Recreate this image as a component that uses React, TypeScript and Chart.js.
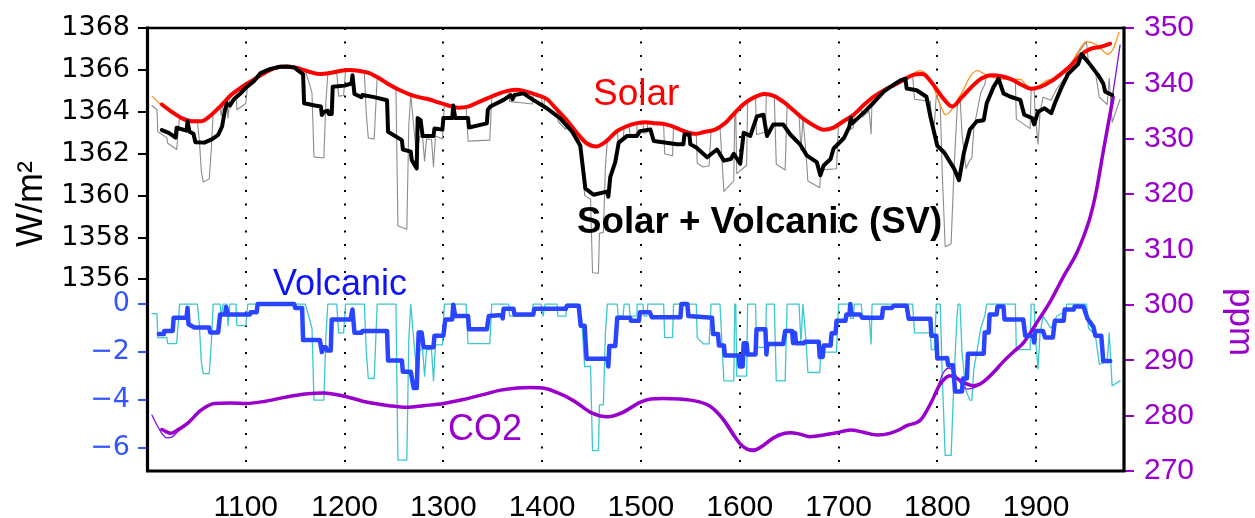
import React, { useEffect, useRef } from 'react';
import { Chart, registerables } from 'chart.js';

Chart.register(...registerables);

// ---------- axes / ticks ----------
const X_MIN = 1001;
const X_MAX = 1989;
const xTickYears = [1100, 1200, 1300, 1400, 1500, 1600, 1700, 1800, 1900];
const solarTicks = [1356, 1358, 1360, 1362, 1364, 1366, 1368];
const volcanicTicks = [0, -2, -4, -6];
const SOLAR_MIN = 1346.86;
const SOLAR_MAX = 1368;
const VOLC_MIN = -6.95;
const VOLC_MAX = 11.49;
const CO2_MIN = 270;
const CO2_MAX = 350;
const CO2_STEP = 10;

// ---------- data (year, value) ----------
// Solar irradiance, smoothed (W/m2)
const solarSmooth: [number, number][] = [
  [1015, 1364.35], [1025, 1364.0], [1035, 1363.7], [1045, 1363.55], [1055, 1363.55], [1065, 1363.85],
  [1075, 1364.3], [1085, 1364.8], [1095, 1365.15], [1105, 1365.45], [1115, 1365.75], [1125, 1366.0],
  [1135, 1366.15], [1145, 1366.15], [1155, 1366.05], [1165, 1365.9], [1175, 1365.8], [1185, 1365.85],
  [1195, 1365.95], [1205, 1366.0], [1215, 1365.95], [1225, 1365.85], [1235, 1365.6], [1245, 1365.3],
  [1255, 1365.05], [1265, 1364.85], [1275, 1364.7], [1285, 1364.6], [1295, 1364.45], [1305, 1364.3],
  [1315, 1364.2], [1325, 1364.25], [1335, 1364.45], [1345, 1364.65], [1355, 1364.85], [1365, 1365.0],
  [1375, 1365.05], [1385, 1364.95], [1395, 1364.8], [1405, 1364.6], [1415, 1364.1], [1425, 1363.6],
  [1435, 1363.0], [1445, 1362.5], [1455, 1362.35], [1465, 1362.6], [1475, 1363.05], [1485, 1363.3],
  [1495, 1363.45], [1505, 1363.5], [1515, 1363.45], [1525, 1363.4], [1535, 1363.25], [1545, 1363.05],
  [1555, 1362.95], [1565, 1363.05], [1575, 1363.15], [1585, 1363.45], [1595, 1363.95], [1605, 1364.4],
  [1615, 1364.7], [1625, 1364.85], [1635, 1364.75], [1645, 1364.45], [1655, 1364.05], [1665, 1363.65],
  [1675, 1363.35], [1685, 1363.15], [1695, 1363.25], [1705, 1363.55], [1715, 1363.85], [1725, 1364.3],
  [1735, 1364.7], [1745, 1365.0], [1755, 1365.25], [1765, 1365.5], [1775, 1365.75], [1785, 1365.8],
  [1795, 1365.35], [1805, 1364.7], [1815, 1364.25], [1825, 1364.7], [1835, 1365.2], [1845, 1365.6],
  [1855, 1365.75], [1865, 1365.7], [1875, 1365.55], [1885, 1365.3], [1895, 1365.1], [1905, 1365.2],
  [1915, 1365.45], [1925, 1365.8], [1935, 1366.2], [1945, 1366.7], [1955, 1367.0], [1965, 1367.1],
  [1975, 1367.25],
];

// Solar irradiance, annual (thin orange)
const solarAnnual: [number, number][] = [
  [1005, 1364.75], [1015, 1364.3], [1025, 1364.0], [1035, 1363.65], [1045, 1363.52], [1055, 1363.5],
  [1065, 1363.8], [1075, 1364.3], [1085, 1364.78], [1095, 1365.15], [1105, 1365.45], [1115, 1365.75],
  [1125, 1366.0], [1135, 1366.17], [1145, 1366.15], [1155, 1366.05], [1165, 1365.9], [1175, 1365.8],
  [1185, 1365.85], [1195, 1365.95], [1205, 1366.0], [1215, 1365.95], [1225, 1365.85], [1235, 1365.6],
  [1245, 1365.3], [1255, 1365.05], [1265, 1364.85], [1275, 1364.7], [1285, 1364.6], [1295, 1364.45],
  [1305, 1364.28], [1315, 1364.15], [1325, 1364.22], [1335, 1364.45], [1345, 1364.65], [1355, 1364.85],
  [1365, 1365.0], [1375, 1365.05], [1385, 1364.95], [1395, 1364.8], [1405, 1364.6], [1415, 1364.1],
  [1425, 1363.6], [1435, 1363.0], [1445, 1362.5], [1455, 1362.3], [1465, 1362.6], [1475, 1363.05],
  [1485, 1363.35], [1495, 1363.45], [1505, 1363.52], [1515, 1363.45], [1525, 1363.4], [1535, 1363.25],
  [1545, 1363.05], [1555, 1362.95], [1565, 1363.05], [1575, 1363.15], [1585, 1363.45], [1595, 1363.95],
  [1605, 1364.4], [1615, 1364.72], [1625, 1364.9], [1635, 1364.75], [1645, 1364.45], [1655, 1364.05],
  [1665, 1363.65], [1675, 1363.35], [1685, 1363.12], [1695, 1363.25], [1705, 1363.55], [1715, 1363.85],
  [1725, 1364.3], [1735, 1364.7], [1745, 1365.0], [1755, 1365.25], [1765, 1365.5], [1775, 1365.8],
  [1782, 1365.97], [1790, 1365.75], [1795, 1365.3], [1800, 1364.7], [1805, 1364.1], [1808, 1363.86],
  [1812, 1363.95], [1816, 1364.2], [1820, 1364.55], [1826, 1365.0], [1831, 1365.5], [1836, 1365.85],
  [1841, 1365.97], [1846, 1365.85], [1850, 1365.75], [1860, 1365.6], [1874, 1365.55], [1884, 1365.55],
  [1894, 1365.1], [1900, 1365.15], [1911, 1365.5], [1921, 1365.6], [1934, 1366.2], [1943, 1366.9],
  [1951, 1367.35], [1961, 1367.2], [1967, 1366.95], [1972, 1366.75], [1978, 1367.0], [1984, 1367.8],
];

// Solar + Volcanic, smoothed (thick black)
const svSmooth: [number, number][] = [
  [1015, 1363.13], [1022, 1363.0], [1029, 1362.77], [1030, 1363.24], [1040, 1363.1], [1041, 1363.55],
  [1043, 1363.05], [1047, 1362.95], [1049, 1362.55], [1058, 1362.53], [1066, 1362.7], [1072, 1362.9],
  [1076, 1363.3], [1079, 1364.1], [1081, 1364.41], [1084, 1364.3], [1088, 1364.6], [1094, 1364.85],
  [1101, 1365.19], [1108, 1365.45], [1115, 1365.85], [1125, 1366.05], [1135, 1366.15], [1142, 1366.16],
  [1150, 1366.1], [1152, 1366.0], [1158, 1365.8], [1159, 1364.41], [1170, 1364.3], [1176, 1364.25],
  [1177, 1363.85], [1179, 1364.0], [1183, 1364.05], [1184, 1363.9], [1187, 1363.9], [1188, 1365.2],
  [1200, 1365.25], [1207, 1365.35], [1208, 1365.75], [1210, 1364.85], [1217, 1364.7], [1218, 1364.8],
  [1230, 1364.7], [1243, 1364.55], [1244, 1363.05], [1258, 1362.65], [1259, 1362.2], [1267, 1362.1],
  [1268, 1361.7], [1273, 1361.3], [1274, 1363.7], [1277, 1363.6], [1279, 1362.85], [1290, 1362.85],
  [1291, 1363.2], [1299, 1363.15], [1300, 1363.7], [1309, 1363.7], [1310, 1364.3], [1312, 1363.7],
  [1325, 1363.7], [1326, 1363.25], [1344, 1363.45], [1345, 1364.1], [1347.6, 1364.25], [1361, 1364.57],
  [1368, 1364.8], [1370, 1364.6], [1372, 1364.8], [1381, 1364.88], [1391, 1364.57], [1404.7, 1364.17],
  [1418, 1363.7], [1430, 1363.08], [1438.6, 1362.38], [1443.7, 1360.35], [1452, 1360.04], [1465.6, 1360.19],
  [1467, 1359.95], [1469, 1360.9], [1474, 1361.6], [1477.5, 1362.53], [1486, 1362.85], [1496, 1362.85],
  [1499, 1363.08], [1509.5, 1363.16], [1513, 1362.61], [1536.7, 1362.45], [1543, 1362.45], [1544, 1362.92],
  [1549, 1362.92], [1550, 1362.45], [1556, 1362.3], [1567, 1361.83], [1577, 1362.2], [1584, 1361.67],
  [1591, 1361.75], [1594, 1362.0], [1600.5, 1361.52], [1604, 1363.0], [1610.7, 1362.85], [1617.4, 1363.78],
  [1624, 1363.86], [1627.6, 1362.85], [1634, 1363.4], [1644, 1363.4], [1651, 1362.93], [1661, 1362.45],
  [1668, 1361.91], [1678, 1361.6], [1681.6, 1360.97], [1685, 1361.44], [1692, 1361.75], [1695, 1362.25],
  [1705.6, 1362.75], [1711, 1363.3], [1712.5, 1363.7], [1714, 1363.45], [1725, 1363.94], [1735, 1364.41],
  [1745.7, 1364.96], [1752.5, 1365.19], [1762.6, 1365.5], [1767.7, 1365.58], [1769, 1365.11], [1779, 1365.03],
  [1789, 1364.72], [1793, 1363.78], [1800, 1362.38], [1807, 1362.06], [1817, 1361.29], [1822, 1360.74],
  [1827, 1362.06], [1833, 1363.16], [1840, 1363.55], [1847, 1363.6], [1850, 1364.41], [1857, 1365.19],
  [1862, 1365.58], [1867, 1364.88], [1874, 1364.72], [1884, 1364.57], [1888, 1363.86], [1896, 1363.7],
  [1898, 1363.4], [1902, 1364.0], [1908.6, 1364.17], [1915.4, 1363.94], [1919, 1364.41], [1926, 1365.19],
  [1932.5, 1365.81], [1942.6, 1366.28], [1946, 1366.75], [1953, 1366.36], [1963, 1365.74], [1968, 1365.35],
  [1970, 1364.96], [1977, 1364.8],
];

// Solar + Volcanic, annual (thin grey)
const svAnnual: [number, number][] = [
  [1005, 1364.3], [1010, 1364.1], [1011, 1363.05], [1020, 1362.77], [1021, 1362.5], [1030, 1362.2],
  [1033, 1363.77], [1051, 1363.55], [1053, 1362.65], [1055, 1361.15], [1057, 1360.65], [1063, 1360.8],
  [1065, 1362.15], [1067, 1363.95], [1074, 1364.25], [1075, 1363.8], [1077, 1364.4], [1081, 1364.6],
  [1082, 1363.7], [1084, 1364.7], [1090, 1364.97], [1091, 1364.1], [1100, 1364.4], [1102, 1365.35],
  [1125, 1366.0], [1145, 1366.15], [1160, 1365.97], [1163, 1365.55], [1167, 1364.9], [1169, 1361.85],
  [1179, 1361.8], [1181, 1364.4], [1183, 1365.83], [1192, 1365.92], [1194, 1364.75], [1199, 1364.78],
  [1201, 1365.97], [1220, 1365.9], [1222, 1363.9], [1224, 1362.75], [1230, 1362.7], [1233, 1365.65],
  [1252, 1365.1], [1254, 1358.55], [1263, 1358.4], [1265, 1363.35], [1267, 1364.83], [1270, 1363.3],
  [1273, 1361.9], [1276, 1362.82], [1279, 1362.78], [1281, 1361.65], [1283, 1362.7], [1288, 1362.68],
  [1290, 1361.38], [1292, 1362.85], [1299, 1362.7], [1301, 1364.37], [1309, 1364.27], [1310, 1363.77],
  [1312, 1364.25], [1323, 1364.24], [1325, 1362.6], [1347, 1362.65], [1349, 1364.72], [1366, 1365.0],
  [1367, 1364.5], [1390, 1364.37], [1391, 1364.86], [1399, 1364.72], [1401, 1364.2], [1403, 1364.65],
  [1415, 1364.1], [1416, 1363.55], [1424, 1363.15], [1425, 1363.6], [1436, 1362.95], [1440, 1362.15],
  [1443, 1360.0], [1449, 1359.83], [1451, 1356.32], [1457, 1356.3], [1458, 1358.2], [1462, 1358.25],
  [1464, 1361.35], [1466, 1362.65], [1476, 1363.08], [1477, 1362.6], [1482, 1362.7], [1483, 1363.23],
  [1488, 1363.34], [1489, 1362.85], [1495, 1362.95], [1496, 1363.45], [1502, 1363.48], [1503, 1362.98],
  [1506, 1363.0], [1507, 1363.49], [1523, 1363.41], [1524, 1362.0], [1532, 1361.9], [1533, 1363.28],
  [1556, 1362.95], [1557, 1361.55], [1563, 1361.37], [1569, 1361.43], [1571, 1363.1], [1580, 1363.3],
  [1582, 1361.75], [1584, 1360.2], [1594, 1360.7], [1595, 1363.95], [1596, 1364.0], [1597, 1361.05],
  [1607, 1361.45], [1608, 1364.5], [1616, 1364.72], [1617, 1362.92], [1626, 1363.04], [1627, 1364.84],
  [1635, 1364.75], [1637, 1361.5], [1646, 1361.22], [1648, 1364.34], [1660, 1363.85], [1662, 1362.17],
  [1664, 1363.69], [1667, 1362.08], [1669, 1360.7], [1681, 1360.38], [1682, 1361.23], [1698, 1361.28],
  [1700, 1363.4], [1711, 1363.73], [1712, 1363.16], [1715, 1363.25], [1716, 1363.89], [1723, 1364.2],
  [1724, 1363.75], [1731, 1364.04], [1733, 1362.96], [1734, 1364.66], [1755, 1365.25], [1775, 1365.75],
  [1777, 1364.6], [1793, 1364.5], [1794, 1363.6], [1797, 1363.4], [1799, 1364.8], [1803, 1364.3],
  [1805, 1361.1], [1808, 1357.56], [1814, 1357.7], [1817, 1361.35], [1820, 1364.05], [1821, 1364.62],
  [1823, 1364.75], [1825, 1362.95], [1829, 1361.3], [1833, 1361.7], [1835, 1361.8], [1837, 1363.2],
  [1840, 1363.95], [1844, 1364.9], [1848, 1365.3], [1850, 1365.75], [1879, 1365.55], [1880, 1363.65],
  [1894, 1363.2], [1895, 1365.1], [1898, 1365.12], [1899, 1363.93], [1902, 1362.45], [1904, 1363.95],
  [1907, 1364.7], [1915, 1364.55], [1921, 1365.1], [1930, 1365.7], [1931, 1366.05], [1951, 1367.35],
  [1953, 1366.32], [1960, 1365.9], [1964, 1364.7], [1972, 1364.35], [1974, 1365.6], [1977, 1363.5],
  [1985, 1364.6],
];

// Volcanic forcing, smoothed (thick blue)
const volcSmooth: [number, number][] = [
  [1012, -1.25], [1017, -1.25], [1017.5, -1.12], [1026, -1.12], [1027, -0.57], [1040, -0.57],
  [1041, -0.16], [1042, -0.84], [1048, -0.98], [1063, -0.98], [1064, -1.19], [1072, -1.19],
  [1074, -0.44], [1079, -0.44], [1080, -0.12], [1082, -0.44], [1104, -0.44], [1105, -0.34],
  [1111, -0.34], [1112, 0], [1149, 0], [1150, -0.16], [1157, -0.16], [1158, -1.5], [1175, -1.5],
  [1177, -2.0], [1178, -1.8], [1181, -1.8], [1182, -1.93], [1186, -1.93], [1187, -0.64], [1206, -0.64],
  [1208, -0.23], [1210, -1.2], [1217, -1.2], [1218, -1.12], [1243, -1.12], [1244, -2.35], [1258, -2.35],
  [1259, -2.82], [1267, -2.82], [1270, -3.5], [1273, -3.5], [1275, -1.19], [1278, -1.19], [1280, -1.8],
  [1290, -1.8], [1291, -1.32], [1300, -1.32], [1302, -0.64], [1309, -0.64], [1310, -0.03], [1312, -0.5],
  [1325, -0.5], [1326, -1.05], [1344, -1.05], [1346, -0.5], [1359, -0.46], [1360, -0.6], [1361, -0.2],
  [1371, -0.2], [1372, -0.44], [1391, -0.44], [1392, -0.2], [1424, -0.2], [1425, -0.07], [1437, -0.07],
  [1439, -0.9], [1443, -0.9], [1445, -2.28], [1466, -2.28], [1467, -2.6], [1468, -1.75], [1474, -1.75],
  [1476, -0.57], [1489, -0.57], [1490, -0.7], [1498, -0.7], [1499, -0.34], [1509, -0.34], [1511, -0.55],
  [1540, -0.55], [1541, 0], [1547, 0], [1548, -0.5], [1572, -0.57], [1573, -1.25], [1578, -1.25],
  [1579, -1.73], [1584, -1.73], [1585, -2.14], [1599, -2.14], [1600, -2.6], [1603, -2.6], [1604, -1.63],
  [1607, -1.63], [1608, -2.1], [1616, -2.1], [1617, -1.05], [1626, -1.05], [1627, -2.1], [1628, -1.66],
  [1644, -1.66], [1646, -1.12], [1653, -1.12], [1654, -1.63], [1656, -1.2], [1657, -1.63], [1665, -1.63],
  [1666, -1.57], [1680, -1.57], [1681, -2.2], [1684, -2.2], [1685, -1.73], [1692, -1.73], [1693, -1.22],
  [1697, -1.22], [1698, -0.7], [1707, -0.7], [1708, -0.44], [1711, -0.44], [1712, 0], [1713, -0.44],
  [1722, -0.44], [1724, -0.57], [1744, -0.57], [1745, -0.16], [1754, -0.16], [1756, -0.07], [1769, -0.07],
  [1771, -0.61], [1793, -0.61], [1794, -1.32], [1799, -1.32], [1800, -2.27], [1810, -2.25], [1811, -2.55],
  [1816, -2.55], [1818, -3.64], [1825, -3.64], [1826, -3.1], [1830, -3.1], [1831, -2.07], [1847, -2.07],
  [1848, -1.19], [1852, -1.19], [1853, -0.44], [1860, -0.44], [1861, -0.1], [1867, -0.1], [1868, -0.64],
  [1887, -0.64], [1889, -1.32], [1897, -1.32], [1898, -1.6], [1899, -1.12], [1907, -1.12], [1909, -1.39],
  [1917, -1.39], [1919, -0.7], [1928, -0.7], [1929, -0.23], [1938, -0.23], [1939, -0.1], [1948, -0.1],
  [1952, -0.6], [1958, -0.95], [1960, -1.32], [1966, -1.32], [1968, -2.37], [1975, -2.37],
];

// Volcanic forcing, annual (thin cyan)
const volcAnnual: [number, number][] = [
  [1005, -0.4], [1010, -0.4], [1011, -1.4], [1020, -1.4], [1021, -1.65], [1030, -1.65], [1033, 0],
  [1051, 0], [1053, -0.9], [1055, -2.4], [1057, -2.9], [1063, -2.9], [1065, -1.7], [1067, 0], [1074, 0],
  [1075, -0.5], [1077, 0], [1081, 0], [1082, -0.9], [1084, 0], [1090, 0], [1091, -0.9], [1100, -0.9],
  [1102, 0], [1160, 0], [1163, -0.4], [1167, -1.0], [1169, -4.0], [1179, -4.0], [1181, -1.4], [1183, 0],
  [1192, 0], [1194, -1.2], [1199, -1.2], [1201, 0], [1220, 0], [1222, -2.0], [1224, -3.1], [1230, -3.1],
  [1233, 0], [1252, 0], [1254, -6.5], [1263, -6.5], [1265, -1.5], [1267, 0], [1270, -1.5], [1273, -2.85],
  [1276, -1.9], [1279, -1.9], [1281, -3.0], [1283, -1.9], [1288, -1.9], [1290, -3.2], [1292, -1.7],
  [1299, -1.7], [1301, 0], [1309, 0], [1310, -0.5], [1312, 0], [1323, 0], [1325, -1.65], [1347, -1.65],
  [1349, 0], [1366, 0], [1367, -0.5], [1390, -0.5], [1391, 0], [1399, 0], [1401, -0.5], [1403, 0],
  [1415, 0], [1416, -0.5], [1424, -0.5], [1425, 0], [1436, 0], [1440, -0.6], [1443, -2.6], [1449, -2.6],
  [1451, -6.1], [1457, -6.1], [1458, -4.2], [1462, -4.2], [1464, -1.2], [1466, 0], [1476, 0], [1477, -0.5],
  [1482, -0.5], [1483, 0], [1488, 0], [1489, -0.5], [1495, -0.5], [1496, 0], [1502, 0], [1503, -0.5],
  [1506, -0.5], [1507, 0], [1523, 0], [1524, -1.4], [1532, -1.4], [1533, 0], [1556, 0], [1557, -1.4],
  [1563, -1.66], [1569, -1.66], [1571, 0], [1580, 0], [1582, -1.6], [1584, -3.2], [1594, -3.2], [1595, 0],
  [1596, 0], [1597, -3.0], [1607, -3.0], [1608, 0], [1616, 0], [1617, -1.8], [1626, -1.8], [1627, 0],
  [1635, 0], [1637, -3.2], [1646, -3.2], [1648, 0], [1660, 0], [1662, -1.6], [1664, 0], [1667, -1.5],
  [1669, -2.85], [1681, -2.85], [1682, -2.0], [1698, -2.0], [1700, 0], [1711, 0], [1712, -0.6],
  [1715, -0.6], [1716, 0], [1723, 0], [1724, -0.5], [1731, -0.5], [1733, -1.66], [1734, 0], [1775, 0],
  [1777, -1.2], [1793, -1.2], [1794, -1.9], [1797, -1.9], [1799, 0], [1803, 0], [1805, -3.0], [1808, -6.3],
  [1814, -6.3], [1817, -3.0], [1820, -0.5], [1821, 0], [1823, 0], [1825, -2.0], [1829, -3.6], [1833, -4.0],
  [1835, -4.0], [1837, -2.7], [1840, -2.0], [1844, -1.0], [1848, -0.5], [1850, 0], [1879, 0], [1880, -1.9],
  [1894, -1.9], [1895, 0], [1898, 0], [1899, -1.2], [1902, -2.7], [1904, -1.2], [1907, -0.5], [1915, -1.0],
  [1921, -0.5], [1930, -0.3], [1931, 0], [1951, 0], [1953, -1.0], [1960, -1.3], [1964, -2.5], [1972, -2.4],
  [1974, -1.2], [1977, -3.4], [1985, -3.2],
];

// CO2, smoothed (thick purple), ppm
const co2Smooth: [number, number][] = [
  [1015, 277.5], [1024, 276.8], [1030, 277.3], [1041, 278.6], [1054, 280.9], [1068, 282.2], [1085, 282.3],
  [1101, 282.2], [1120, 282.6], [1139, 283.3], [1160, 283.9], [1179, 284.1], [1200, 283.5], [1223, 282.4],
  [1245, 281.8], [1263, 281.5], [1280, 281.8], [1300, 282.2], [1320, 282.9], [1340, 283.8], [1358, 284.6],
  [1375, 285.0], [1388, 285.1], [1401, 285.0], [1416, 284.1], [1432, 282.7], [1449, 280.6], [1466, 279.8],
  [1482, 280.6], [1499, 282.4], [1510, 283.0], [1523, 283.1], [1550, 282.8], [1570, 281.7], [1584, 279.2],
  [1600, 275.0], [1607, 274.0], [1614, 273.8], [1622, 274.4], [1631, 275.6], [1640, 276.5], [1651, 276.9],
  [1660, 276.7], [1671, 276.2], [1685, 276.5], [1698, 276.9], [1712, 277.4], [1725, 277.0], [1739, 276.5],
  [1752, 276.8], [1762, 277.5], [1769, 278.2], [1783, 279.2], [1793, 282.1], [1803, 285.7], [1813, 287.2],
  [1820, 286.7], [1826.5, 286.0], [1836.6, 285.4], [1843, 285.7], [1850, 286.6], [1858, 288.0],
  [1867, 289.8], [1877, 291.5], [1887, 293.1], [1900, 296.6], [1914, 300.5], [1928, 305.2], [1941, 309.3],
  [1948, 312.3], [1955, 316.0], [1961, 320.6], [1968, 327.7], [1974, 333.6], [1978, 337.5],
];

// CO2, annual (thin violet), ppm
const co2Annual: [number, number][] = [
  [1005, 280.1], [1010, 278.3], [1015, 276.8], [1020, 276.0], [1025, 276.1], [1030, 276.9], [1041, 278.5],
  [1054, 280.9], [1068, 282.2], [1085, 282.3], [1101, 282.2], [1139, 283.3], [1179, 284.1], [1223, 282.4],
  [1263, 281.5], [1300, 282.2], [1358, 284.6], [1388, 285.1], [1416, 284.1], [1449, 280.6], [1466, 279.8],
  [1499, 282.4], [1523, 283.1], [1570, 281.7], [1600, 274.8], [1614, 273.5], [1631, 275.5], [1651, 276.9],
  [1671, 276.2], [1698, 276.9], [1712, 277.4], [1739, 276.5], [1762, 277.5], [1775, 278.5], [1783, 279.0],
  [1790, 280.8], [1800, 285.0], [1806, 287.7], [1812, 288.6], [1818, 287.5], [1825, 285.5], [1830, 284.8],
  [1837, 285.0], [1845, 285.9], [1852, 286.8], [1867, 289.8], [1887, 293.1], [1900, 296.6], [1914, 300.5],
  [1928, 305.2], [1941, 309.3], [1955, 316.2], [1961, 320.8], [1968, 328.0], [1974, 334.0], [1981, 342.0],
  [1985, 346.9],
];

// ---------- helpers ----------
const toXY = (pairs: [number, number][]) => pairs.map(([x, y]) => ({ x, y }));
const volcToSolar = (v: number) =>
  SOLAR_MIN + ((v - VOLC_MIN) / (VOLC_MAX - VOLC_MIN)) * (SOLAR_MAX - SOLAR_MIN);
const isVolcTick = (value: number) => value < 1355;
const volcLabel = (value: number) => {
  let best = volcanicTicks[0];
  for (const v of volcanicTicks) {
    if (Math.abs(volcToSolar(v) - value) < Math.abs(volcToSolar(best) - value)) best = v;
  }
  return best === 0 ? '0' : '\u2212' + Math.abs(best);
};

const PURPLE = '#9900cc';
const VOLC_TICK = '#3355ff';

const textLabels = [
  { text: 'Solar', x: 593, y: 105, font: '37px "Liberation Sans"', color: '#ff0000' },
  { text: 'Solar + Volcanic (SV)', x: 577, y: 232.5, font: 'bold 36.7px "Liberation Sans"', color: '#000000' },
  { text: 'Volcanic', x: 273, y: 295, font: '36px "Liberation Sans"', color: '#1014f0' },
  { text: 'CO2', x: 448, y: 439.5, font: '36px "Liberation Sans"', color: PURPLE },
];

const decorPlugin = {
  id: 'decor',
  afterDatasetsDraw(chart: any) {
    const { ctx, chartArea } = chart;
    const { left, right, top, bottom } = chartArea;
    ctx.save();
    ctx.strokeStyle = '#000';
    ctx.lineCap = 'square';
    ctx.lineWidth = 2.5;
    ctx.beginPath();
    ctx.moveTo(left, top);
    ctx.lineTo(right, top);
    ctx.stroke();
    ctx.lineWidth = 3.2;
    ctx.beginPath();
    ctx.moveTo(left - 0.5, top);
    ctx.lineTo(left - 0.5, bottom);
    ctx.lineTo(right, bottom);
    ctx.lineTo(right, top);
    ctx.stroke();

    ctx.textBaseline = 'alphabetic';
    ctx.textAlign = 'left';
    for (const t of textLabels) {
      ctx.font = t.font;
      ctx.fillStyle = t.color;
      ctx.fillText(t.text, t.x, t.y);
    }
    // axis titles
    ctx.save();
    ctx.translate(42, 247);
    ctx.rotate(-Math.PI / 2);
    ctx.font = '36px "Liberation Sans"';
    ctx.fillStyle = '#000';
    ctx.fillText('W/m\u00B2', 0, 0);
    ctx.restore();
    ctx.save();
    ctx.translate(1230, 288);
    ctx.rotate(Math.PI / 2);
    ctx.font = '35px "Liberation Sans"';
    ctx.fillStyle = PURPLE;
    ctx.fillText('ppm', 0, 0);
    ctx.restore();
    ctx.restore();
  },
};

export default function App() {
  const canvasRef = useRef<HTMLCanvasElement | null>(null);

  useEffect(() => {
    const canvas = canvasRef.current;
    if (!canvas) return;
    const line = (data: [number, number][], color: string, width: number, axis: string, smooth = false) => ({
      data: toXY(data),
      borderColor: color,
      backgroundColor: color,
      borderWidth: width,
      pointRadius: 0,
      fill: false,
      yAxisID: axis,
      tension: smooth ? 0.4 : 0,
      cubicInterpolationMode: smooth ? 'monotone' : 'default',
      borderJoinStyle: 'round',
      borderCapStyle: 'round',
    });

    const chart = new Chart(canvas, {
      type: 'line',
      data: {
        datasets: [
          line(svSmooth, '#000000', 4, 'yS'),
          line(solarSmooth, '#ff0000', 4, 'yS', true),
          line(volcSmooth, '#2a45ff', 4.5, 'yV'),
          line(co2Smooth, PURPLE, 3.5, 'yC', true),
          line(co2Annual, '#7a10e8', 1.3, 'yC', true),
          line(solarAnnual, '#ff8c1a', 1.2, 'yS', true),
          line(svAnnual, '#8c8c8c', 1.1, 'yS'),
          line(volcAnnual, '#3cc8cc', 1.3, 'yV'),
        ] as any,
      },
      options: {
        animation: false,
        responsive: false,
        devicePixelRatio: 1,
        events: [],
        layout: { padding: { top: 20, left: 0, right: 0, bottom: 0 } },
        plugins: { legend: { display: false }, tooltip: { enabled: false }, title: { display: false } },
        scales: {
          x: {
            type: 'linear',
            min: X_MIN,
            max: X_MAX,
            afterBuildTicks: (scale: any) => {
              scale.ticks = xTickYears.map((v) => ({ value: v }));
            },
            afterFit: (scale: any) => {
              scale.height = 47;
            },
            ticks: {
              autoSkip: false,
              maxRotation: 0,
              padding: 19,
              color: '#000',
              font: { family: 'Liberation Sans', size: 30 },
              callback: (v: any) => String(v),
            },
            grid: { color: '#000', lineWidth: 2, drawTicks: false, drawOnChartArea: true },
            border: { display: false, dash: [2, 11.5] },
          },
          yS: {
            type: 'linear',
            position: 'left',
            min: SOLAR_MIN,
            max: SOLAR_MAX,
            afterBuildTicks: (scale: any) => {
              const t = solarTicks.map((v) => ({ value: v }));
              volcanicTicks.forEach((v) => t.push({ value: volcToSolar(v) }));
              scale.ticks = t;
            },
            afterFit: (scale: any) => {
              scale.width = 148;
            },
            ticks: {
              autoSkip: false,
              padding: 8,
              color: (c: any) => (c.tick && isVolcTick(c.tick.value) ? VOLC_TICK : '#000'),
              font: { family: 'DejaVu Sans', size: 27 },
              callback: (v: any) => (isVolcTick(v) ? volcLabel(v) : String(v)),
            },
            grid: {
              drawOnChartArea: false,
              drawTicks: true,
              tickLength: 10,
              lineWidth: 2,
              color: (c: any) => (c.tick && isVolcTick(c.tick.value) ? VOLC_TICK : '#000'),
            },
            border: { display: false },
          },
          yV: {
            type: 'linear',
            display: false,
            min: VOLC_MIN,
            max: VOLC_MAX,
          },
          yC: {
            type: 'linear',
            position: 'right',
            min: CO2_MIN,
            max: CO2_MAX,
            afterFit: (scale: any) => {
              scale.width = 131;
            },
            ticks: {
              stepSize: CO2_STEP,
              autoSkip: false,
              padding: 10,
              color: PURPLE,
              font: { family: 'Liberation Sans', size: 30 },
            },
            grid: { drawOnChartArea: false, drawTicks: true, tickLength: 10, lineWidth: 2, color: PURPLE },
            border: { display: false },
          },
        },
      } as any,
      plugins: [decorPlugin],
    });
    return () => chart.destroy();
  }, []);

  return (
    <div style={{ position: 'fixed', left: 0, top: 0, width: 1255, height: 518, background: '#fff' }}>
      <canvas ref={canvasRef} width={1255} height={518} style={{ display: 'block' }} />
    </div>
  );
}
